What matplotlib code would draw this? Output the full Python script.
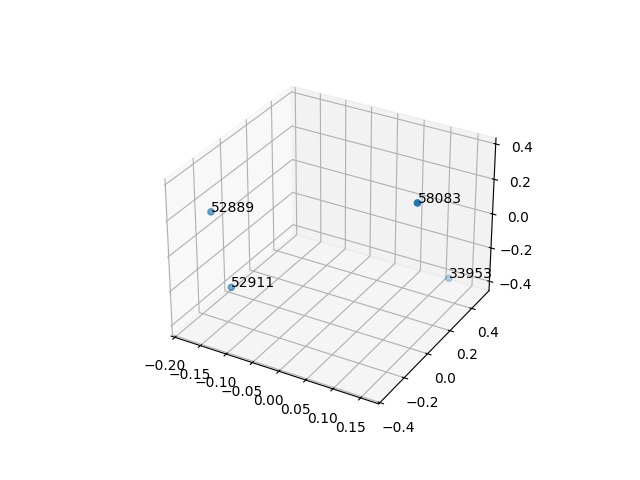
#!/usr/bin/env python3
import matplotlib

matplotlib.use("Agg")
import matplotlib.pyplot as plt

labels = ["58083", "52889", "52911", "33953"]
xs = [0.139, -0.199, -0.149, 0.118]
ys = [0.09, -0.117, -0.172, 0.50]
zs = [0.305, 0.09, -0.27, -0.40]


def main():
    fig = plt.figure(figsize=(6.4, 4.8), dpi=100)
    ax = fig.add_subplot(projection="3d")
    ax.scatter(xs, ys, zs)
    for x, y, z, label in zip(xs, ys, zs, labels):
        ax.text(x, y, z, label)
    ax.set_xlim(-0.2075, 0.1825)
    ax.set_ylim(-0.41, 0.565)
    ax.set_zlim(-0.457, 0.433)
    fig.savefig("out.png", dpi=100)


if __name__ == "__main__":
    main()
